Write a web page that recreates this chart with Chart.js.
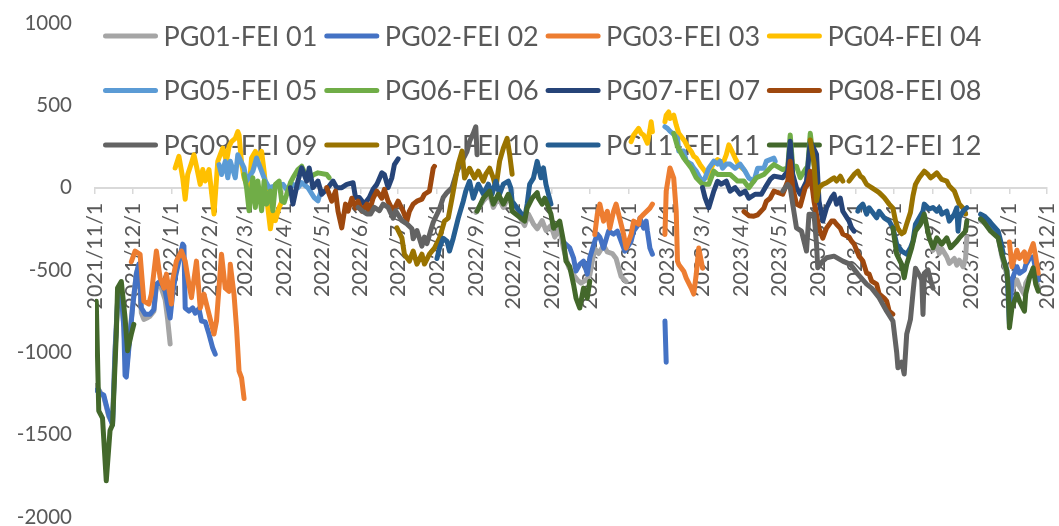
<!DOCTYPE html>
<html>
<head>
<meta charset="utf-8">
<script src="https://cdn.jsdelivr.net/npm/chart.js@4.4.0/dist/chart.umd.min.js"></script>
<style>
html, body { margin: 0; padding: 0; background: #ffffff; }
</style>
</head>
<body>
<canvas id="myChart" width="1059" height="526"></canvas>
<script>
var seriesNames = ["PG01-FEI 01", "PG02-FEI 02", "PG03-FEI 03", "PG04-FEI 04", "PG05-FEI 05", "PG06-FEI 06",
    "PG07-FEI 07", "PG08-FEI 08", "PG09-FEI 09", "PG10-FEI 10", "PG11-FEI 11", "PG12-FEI 12"];
var seriesColors = ["#A5A5A5", "#4472C4", "#ED7D31", "#FFC000", "#5B9BD5", "#70AD47",
    "#264478", "#9E480E", "#636363", "#997300", "#255E91", "#43682B"];
var monthLabels = ["2021/11/1", "2021/12/1", "2022/1/1", "2022/2/1", "2022/3/1", "2022/4/1", "2022/5/1",
    "2022/6/1", "2022/7/1", "2022/8/1", "2022/9/1", "2022/10/1", "2022/11/1", "2022/12/1", "2023/1/1",
    "2023/2/1", "2023/3/1", "2023/4/1", "2023/5/1", "2023/6/1", "2023/7/1", "2023/8/1", "2023/9/1",
    "2023/10/1", "2023/11/1", "2023/12/1"];

// [date, value]; null = gap
var pg01 = [["2021-11-02",-1200],["2021-11-05",-1240],["2021-11-08",-1270],["2021-11-10",-1330],["2021-11-12",-1390],["2021-11-15",-1430],["2021-11-17",-980],["2021-11-19",-690],["2021-11-22",-630],["2021-11-24",-840],["2021-11-26",-1120],["2021-11-29",-880],["2021-12-01",-720],["2021-12-04",-520],["2021-12-06",-470],["2021-12-08",-760],["2021-12-10",-800],["2021-12-13",-790],["2021-12-15",-780],["2021-12-18",-750],["2021-12-20",-600],["2021-12-23",-590],["2021-12-27",-680],["2021-12-29",-800],["2021-12-31",-950],
    ["2022-02-15",null],
    ["2022-09-01",-150],["2022-09-07",-80],["2022-09-12",-40],["2022-09-15",-120],["2022-09-19",-60],["2022-09-23",-120],["2022-09-27",-60],["2022-09-30",-100],["2022-10-10",-230],["2022-10-13",-160],["2022-10-17",-220],["2022-10-20",-250],["2022-10-24",-200],["2022-10-27",-260],["2022-10-31",-230],["2022-11-03",-300],["2022-11-07",-250],["2022-11-10",-370],["2022-11-14",-480],["2022-11-17",-520],["2022-11-21",-560],["2022-11-24",-580],["2022-11-28",-560],["2022-12-01",-530],["2022-12-05",-370],["2022-12-08",-400],["2022-12-12",-350],["2022-12-15",-390],["2022-12-19",-400],["2022-12-22",-430],["2022-12-26",-540],["2022-12-30",-570],
    ["2023-05-01",null],
    ["2023-09-01",-380],["2023-09-04",-350],["2023-09-06",-400],["2023-09-08",-370],["2023-09-12",-420],["2023-09-14",-460],["2023-09-18",-430],["2023-09-20",-470],["2023-09-22",-440],["2023-09-25",-480],["2023-09-27",-430],["2023-09-28",-300],["2023-10-03",null],["2023-10-09",-200],["2023-10-11",-210],["2023-10-17",-240],["2023-10-23",-300],["2023-10-26",-420],["2023-10-30",-530],["2023-11-01",-640],["2023-11-03",-620],["2023-11-07",-560],["2023-11-09",-600],["2023-11-13",-650],["2023-11-14",-580],["2023-11-17",-540],["2023-11-20",-500],["2023-11-22",-560],["2023-11-24",-600]];

var pg02 = [["2021-11-02",-1230],["2021-11-04",-1230],["2021-11-05",-1250],["2021-11-08",-1260],["2021-11-10",-1320],["2021-11-12",-1380],["2021-11-15",-1440],["2021-11-17",-1000],["2021-11-19",-700],["2021-11-22",-640],["2021-11-24",-850],["2021-11-25",-1140],["2021-11-26",-1150],["2021-11-29",-890],["2021-12-01",-730],["2021-12-04",-525],["2021-12-06",-464],["2021-12-08",-731],["2021-12-11",-768],["2021-12-15",-768],["2021-12-18",-740],["2021-12-20",-586],["2021-12-23",-568],["2021-12-27",-628],["2021-12-31",-792],["2022-01-02",-646],["2022-01-04",-549],["2022-01-07",-446],["2022-01-10",-343],["2022-01-11",-355],["2022-01-12",-731],["2022-01-15",-750],["2022-01-18",-730],["2022-01-20",-762],["2022-01-23",-735],["2022-01-25",-810],["2022-01-28",-815],["2022-01-31",-889],["2022-02-03",-974],["2022-02-05",-1011],
    ["2022-06-01",null],
    ["2022-11-10",-330],["2022-11-15",-365],["2022-11-18",-426],["2022-11-20",-507],["2022-11-23",-466],["2022-11-26",-446],["2022-11-29",-525],["2022-12-01",-426],["2022-12-05",-325],["2022-12-07",-282],["2022-12-09",-300],["2022-12-12",-367],["2022-12-16",-264],["2022-12-20",-282],["2022-12-23",-264],["2022-12-26",-325],["2022-12-29",-385],["2023-01-03",-325],["2023-01-05",-264],["2023-01-09",-222],["2023-01-10",-185],["2023-01-13",-246],["2023-01-15",-203],["2023-01-16",-264],["2023-01-18",-367],["2023-01-20",-404],
    ["2023-01-25",null],
    ["2023-01-30",-810],["2023-01-31",-1060],
    ["2023-06-01",null],
    ["2023-10-09",-190],["2023-10-17",-230],["2023-10-23",-290],["2023-10-26",-400],["2023-10-30",-500],["2023-11-01",-830],["2023-11-03",-560],["2023-11-07",-480],["2023-11-09",-520],["2023-11-13",-500],["2023-11-14",-470],["2023-11-17",-430],["2023-11-20",-420],["2023-11-22",-500],["2023-11-24",-560]];

var pg03 = [["2021-11-30",-450],["2021-12-03",-385],["2021-12-07",-405],["2021-12-10",-689],["2021-12-14",-707],["2021-12-16",-646],["2021-12-20",-385],["2021-12-23",-547],["2021-12-26",-610],["2021-12-28",-525],["2022-01-01",-707],["2022-01-02",-560],["2022-01-05",-446],["2022-01-09",-385],["2022-01-12",-446],["2022-01-15",-586],["2022-01-17",-668],["2022-01-21",-446],["2022-01-24",-731],["2022-01-27",-646],["2022-01-31",-768],["2022-02-04",-889],["2022-02-06",-810],["2022-02-10",-404],["2022-02-13",-610],["2022-02-16",-630],["2022-02-17",-465],["2022-02-20",-650],["2022-02-22",-853],["2022-02-24",-1114],["2022-02-26",-1155],["2022-02-28",-1280],
    ["2022-06-01",null],
    ["2022-12-05",-284],["2022-12-07",-161],["2022-12-09",-100],["2022-12-12",-203],["2022-12-15",-143],["2022-12-17",-246],["2022-12-20",-143],["2022-12-22",-100],["2022-12-26",-222],["2022-12-28",-284],["2022-12-30",-367],["2023-01-03",-284],["2023-01-05",-203],["2023-01-09",-222],["2023-01-10",-185],["2023-01-13",-161],["2023-01-18",-124],["2023-01-20",-100],
    ["2023-01-25",null],
    ["2023-01-30",-284],["2023-01-31",-21],["2023-02-03",120],["2023-02-06",58],["2023-02-08",-143],["2023-02-09",-446],["2023-02-10",-466],["2023-02-14",-507],["2023-02-16",-549],["2023-02-20",-610],["2023-02-22",-646],["2023-02-24",-525],["2023-02-26",-367],["2023-02-28",-446],["2023-03-01",-489],
    ["2023-06-01",null],
    ["2023-11-01",-330],["2023-11-03",-480],["2023-11-07",-380],["2023-11-09",-430],["2023-11-13",-390],["2023-11-14",-450],["2023-11-17",-400],["2023-11-20",-340],["2023-11-22",-420],["2023-11-24",-520]];

var pg04 = [["2022-01-04",120],["2022-01-07",190],["2022-01-10",60],["2022-01-12",-70],["2022-01-14",80],["2022-01-17",150],["2022-01-19",200],["2022-01-21",130],["2022-01-24",20],["2022-01-26",110],["2022-01-28",40],["2022-01-31",110],["2022-02-04",-160],["2022-02-07",160],["2022-02-09",200],["2022-02-11",240],["2022-02-14",160],["2022-02-16",250],["2022-02-18",280],["2022-02-21",300],["2022-02-23",340],["2022-02-24",320],["2022-02-26",150],["2022-02-28",60],["2022-03-04",-10],["2022-03-06",180],["2022-03-09",220],["2022-03-11",180],["2022-03-14",220],["2022-03-16",100],["2022-03-18",-60],["2022-03-21",-250],["2022-03-23",-140],["2022-03-25",-200],["2022-03-28",-120],["2022-03-31",-70],
    ["2022-06-01",null],
    ["2023-01-03",280],["2023-01-05",320],["2023-01-09",360],["2023-01-11",330],["2023-01-13",320],["2023-01-16",270],["2023-01-18",350],["2023-01-19",400],["2023-01-20",340],
    ["2023-01-25",null],
    ["2023-01-30",400],["2023-01-31",440],["2023-02-02",460],["2023-02-03",420],["2023-02-06",440],["2023-02-08",380],["2023-02-10",330],["2023-02-13",300],["2023-02-15",280],["2023-02-17",250],["2023-02-20",220],["2023-02-22",190],["2023-02-24",180],["2023-02-27",140],["2023-03-01",120],["2023-03-03",100],["2023-03-06",60],["2023-03-08",120],["2023-03-10",150],["2023-03-13",170],["2023-03-15",160],["2023-03-17",140],["2023-03-20",200],["2023-03-22",260],["2023-03-24",230],["2023-03-27",180],["2023-03-29",150],["2023-03-31",130],["2023-04-03",110]];

var pg05 = [["2022-02-08",140],["2022-02-10",80],["2022-02-13",160],["2022-02-15",60],["2022-02-17",160],["2022-02-21",60],["2022-02-23",200],["2022-02-28",120],["2022-03-02",40],["2022-03-07",100],["2022-03-10",180],["2022-03-14",100],["2022-03-17",40],["2022-03-20",0],["2022-03-25",10],["2022-03-31",20],["2022-04-04",-20],["2022-04-08",20],["2022-04-12",0],["2022-04-15",30],["2022-04-20",0],["2022-04-25",-60],["2022-04-28",-80],["2022-04-30",-30],
    ["2022-06-01",null],
    ["2023-01-30",370],["2023-02-01",360],["2023-02-03",343],["2023-02-06",324],["2023-02-09",302],["2023-02-10",222],["2023-02-14",222],["2023-02-16",161],["2023-02-20",143],["2023-02-22",118],["2023-02-24",100],["2023-02-27",58],["2023-03-01",39],["2023-03-03",58],["2023-03-06",118],["2023-03-10",161],["2023-03-13",143],["2023-03-15",161],["2023-03-17",118],["2023-03-20",143],["2023-03-23",143],["2023-03-27",118],["2023-03-31",143],["2023-04-04",100],["2023-04-07",58],["2023-04-11",39],["2023-04-14",118],["2023-04-19",118],["2023-04-21",161],["2023-04-27",179],["2023-04-28",161]];

var pg06 = [["2022-02-28",80],["2022-03-02",0],["2022-03-04",-140],["2022-03-07",60],["2022-03-09",-120],["2022-03-11",40],["2022-03-14",-140],["2022-03-16",40],["2022-03-18",-100],["2022-03-21",-20],["2022-03-23",-140],["2022-03-25",20],["2022-03-28",40],["2022-03-30",-80],["2022-04-01",-90],["2022-04-06",30],["2022-04-08",60],["2022-04-12",110],["2022-04-15",130],["2022-04-18",80],["2022-04-21",60],["2022-04-25",80],["2022-04-28",90],["2022-05-05",80],["2022-05-07",60],
    ["2022-06-01",null],
    ["2023-02-06",330],["2023-02-09",250],["2023-02-14",180],["2023-02-20",120],["2023-02-24",60],["2023-03-01",20],["2023-03-06",20],["2023-03-10",100],["2023-03-13",80],["2023-03-17",80],["2023-03-23",80],["2023-03-29",40],["2023-04-03",40],["2023-04-07",0],["2023-04-13",60],["2023-04-19",80],["2023-04-24",120],["2023-04-27",140],["2023-05-04",110],["2023-05-08",120],["2023-05-10",320],["2023-05-12",130],["2023-05-15",130],["2023-05-18",60],["2023-05-22",110],["2023-05-24",130],["2023-05-26",330],["2023-05-29",140],["2023-05-31",80]];

var pg07 = [["2022-04-06",0],["2022-04-08",-100],["2022-04-12",40],["2022-04-15",120],["2022-04-19",40],["2022-04-21",120],["2022-04-24",0],["2022-04-28",40],["2022-05-01",-40],["2022-05-05",-10],["2022-05-10",40],["2022-05-13",0],["2022-05-17",0],["2022-05-21",20],["2022-05-26",30],["2022-05-28",-60],["2022-05-31",-60],["2022-06-04",-100],["2022-06-08",-60],["2022-06-11",-10],["2022-06-14",20],["2022-06-18",90],["2022-06-20",80],["2022-06-23",0],["2022-06-26",60],["2022-06-28",140],["2022-07-01",175],
    ["2022-09-01",null],
    ["2023-03-01",0],["2023-03-03",-60],["2023-03-06",-122],["2023-03-10",-21],["2023-03-13",39],["2023-03-16",21],["2023-03-20",39],["2023-03-23",-21],["2023-03-27",0],["2023-03-31",-40],["2023-04-04",-21],["2023-04-07",-64],["2023-04-12",-40],["2023-04-17",-40],["2023-04-20",0],["2023-04-24",50],["2023-04-27",70],["2023-05-04",60],["2023-05-08",100],["2023-05-10",282],["2023-05-12",82],["2023-05-15",0],["2023-05-18",-40],["2023-05-23",39],["2023-05-26",282],["2023-05-31",203],["2023-06-02",-82],["2023-06-05",-203],["2023-06-08",-122],["2023-06-12",-60],["2023-06-14",-40],["2023-06-16",-100],["2023-06-19",-64],["2023-06-21",-143],["2023-06-26",-203],["2023-06-28",-244],["2023-06-30",-264]];

var pg08 = [["2022-05-05",0],["2022-05-09",-82],["2022-05-12",-21],["2022-05-14",-143],["2022-05-17",-244],["2022-05-20",-100],["2022-05-22",-143],["2022-05-25",-64],["2022-05-28",-124],["2022-05-30",-82],["2022-06-02",-143],["2022-06-06",-100],["2022-06-08",-143],["2022-06-11",-64],["2022-06-14",-21],["2022-06-18",-64],["2022-06-20",-10],["2022-06-23",-82],["2022-06-27",-143],["2022-07-01",-82],["2022-07-05",-143],["2022-07-08",-203],["2022-07-10",-143],["2022-07-13",-100],["2022-07-16",-82],["2022-07-20",-70],["2022-07-22",-40],["2022-07-26",-21],["2022-07-29",118],["2022-07-30",130],
    ["2022-10-01",null],
    ["2023-04-03",-145],["2023-04-07",-170],["2023-04-11",-173],["2023-04-14",-165],["2023-04-19",-124],["2023-04-21",-82],["2023-04-24",-64],["2023-04-27",-21],["2023-05-04",-40],["2023-05-08",39],["2023-05-10",161],["2023-05-12",0],["2023-05-15",-100],["2023-05-18",-112],["2023-05-22",0],["2023-05-24",21],["2023-05-26",100],["2023-05-29",-82],["2023-06-02",-246],["2023-06-05",-307],["2023-06-08",-246],["2023-06-12",-203],["2023-06-14",-203],["2023-06-16",-222],["2023-06-19",-246],["2023-06-21",-282],["2023-06-26",-300],["2023-06-28",-325],["2023-06-30",-343],["2023-07-04",-416],["2023-07-07",-446],["2023-07-10",-519],["2023-07-12",-525],["2023-07-14",-568],["2023-07-18",-586],["2023-07-20",-646],["2023-07-24",-671],["2023-07-26",-689],["2023-07-28",-750],["2023-07-31",-768]];

var pg09 = [["2022-05-30",-120],["2022-06-02",-140],["2022-06-06",-160],["2022-06-09",-160],["2022-06-12",-120],["2022-06-16",-140],["2022-06-19",-100],["2022-06-23",-120],["2022-06-27",-185],["2022-06-29",-140],["2022-07-04",-200],["2022-07-08",-220],["2022-07-12",-250],["2022-07-13",-310],["2022-07-16",-260],["2022-07-20",-355],["2022-07-22",-300],["2022-07-24",-340],["2022-07-27",-260],["2022-07-29",-210],["2022-08-03",-130],["2022-08-06",-60],["2022-08-09",-30],["2022-08-13",0],["2022-08-17",100],["2022-08-21",160],["2022-08-25",220],["2022-08-27",280],["2022-08-30",330],["2022-09-01",370],["2022-09-02",200],
    ["2022-12-01",null],
    ["2023-05-04",-20],["2023-05-08",20],["2023-05-10",0],["2023-05-12",-100],["2023-05-15",-244],["2023-05-19",-264],["2023-05-23",-385],["2023-05-25",-161],["2023-05-29",-161],["2023-05-31",-343],["2023-06-01",-487],["2023-06-05",-446],["2023-06-08",-426],["2023-06-14",-416],["2023-06-21",-446],["2023-06-27",-466],["2023-07-03",-525],["2023-07-10",-586],["2023-07-14",-610],["2023-07-20",-668],["2023-07-26",-750],["2023-07-31",-810],["2023-08-03",-1000],["2023-08-04",-1094],["2023-08-07",-1060],["2023-08-09",-1132],["2023-08-11",-890],["2023-08-14",-800],["2023-08-16",-640],["2023-08-18",-490],["2023-08-21",-530],["2023-08-23",-560],["2023-08-24",-770],["2023-08-25",-520],["2023-08-28",-500],["2023-08-30",-560],["2023-09-01",-610]];

var pg10 = [["2022-06-30",-244],["2022-07-04",-305],["2022-07-06",-404],["2022-07-10",-446],["2022-07-13",-385],["2022-07-16",-464],["2022-07-20",-404],["2022-07-22",-464],["2022-07-26",-404],["2022-07-30",-367],["2022-08-03",-307],["2022-08-07",-203],["2022-08-10",-185],["2022-08-13",-64],["2022-08-15",21],["2022-08-18",143],["2022-08-21",222],["2022-08-23",58],["2022-08-27",118],["2022-08-31",58],["2022-09-03",100],["2022-09-07",39],["2022-09-09",82],["2022-09-12",118],["2022-09-15",58],["2022-09-17",-3],["2022-09-20",161],["2022-09-23",240],["2022-09-26",300],["2022-09-28",203],["2022-09-30",82],
    ["2023-01-01",null],
    ["2023-05-26",290],["2023-05-29",150],["2023-05-31",-80],["2023-06-02",0],["2023-06-05",20],["2023-06-08",30],["2023-06-12",50],["2023-06-14",60],["2023-06-16",40],["2023-06-19",70],["2023-06-21",40],["2023-06-23",null],["2023-06-26",40],["2023-06-28",60],["2023-06-30",80],["2023-07-03",100],["2023-07-05",70],["2023-07-07",60],["2023-07-10",20],["2023-07-12",10],["2023-07-14",0],["2023-07-18",-20],["2023-07-20",-30],["2023-07-24",-60],["2023-07-26",-80],["2023-07-28",-100],["2023-07-31",-125],["2023-08-02",-200],["2023-08-04",-250],["2023-08-07",-280],["2023-08-09",-270],["2023-08-11",-220],["2023-08-14",-150],["2023-08-16",-50],["2023-08-18",20],["2023-08-21",60],["2023-08-23",80],["2023-08-25",100],["2023-08-28",80],["2023-08-30",60],["2023-09-01",70],["2023-09-04",90],["2023-09-06",70],["2023-09-08",50],["2023-09-12",40],["2023-09-14",10],["2023-09-18",-20],["2023-09-20",-60],["2023-09-22",-100],["2023-09-25",-125],["2023-09-27",-160]];

var pg11 = [["2022-08-01",-430],["2022-08-03",-367],["2022-08-06",-307],["2022-08-09",-325],["2022-08-11",-385],["2022-08-14",-307],["2022-08-18",-185],["2022-08-22",-82],["2022-08-24",-21],["2022-08-27",39],["2022-08-30",-64],["2022-09-03",21],["2022-09-07",-39],["2022-09-11",21],["2022-09-14",-39],["2022-09-17",39],["2022-09-20",-39],["2022-09-23",21],["2022-09-27",39],["2022-09-29",-3],["2022-09-30",-82],["2022-10-10",-185],["2022-10-12",-100],["2022-10-14",21],["2022-10-17",58],["2022-10-20",160],["2022-10-23",60],["2022-10-25",120],["2022-10-27",20],["2022-10-29",-40],["2022-10-31",-100],
    ["2023-03-01",null],
    ["2023-07-03",-143],["2023-07-04",-122],["2023-07-07",-100],["2023-07-10",-161],["2023-07-12",-122],["2023-07-18",-183],["2023-07-20",-143],["2023-07-24",-183],["2023-07-28",-203],["2023-07-31",-244],["2023-08-03",-343],["2023-08-07",-385],["2023-08-11",-404],["2023-08-14",-365],["2023-08-16",-325],["2023-08-18",-222],["2023-08-21",-183],["2023-08-24",-143],["2023-08-25",-100],["2023-08-29",-130],["2023-09-01",-120],["2023-09-04",-143],["2023-09-06",-122],["2023-09-08",-161],["2023-09-12",-143],["2023-09-14",-203],["2023-09-18",-161],["2023-09-20",-122],["2023-09-21",-264],["2023-09-22",-183],["2023-09-25",-143],["2023-09-28",-122],
    ["2023-10-03",null],
    ["2023-10-09",-161],["2023-10-12",-173],["2023-10-16",-203],["2023-10-18",-222],["2023-10-23",-264],["2023-10-25",-325],["2023-10-27",-400]];

var pg12 = [["2021-11-02",-690],["2021-11-04",-1355],["2021-11-07",-1400],["2021-11-10",-1780],["2021-11-13",-1475],["2021-11-15",-1440],["2021-11-18",-890],["2021-11-19",-610],["2021-11-22",-570],["2021-11-25",-790],["2021-11-27",-990],["2021-11-30",-890],["2021-12-02",-830],
    ["2022-05-01",null],
    ["2022-09-02",-143],["2022-09-07",-64],["2022-09-12",-21],["2022-09-15",-100],["2022-09-19",-40],["2022-09-23",-100],["2022-09-27",-40],["2022-09-29",-80],["2022-09-30",-143],["2022-10-10",-203],["2022-10-12",-124],["2022-10-16",-64],["2022-10-20",-30],["2022-10-21",-64],["2022-10-24",-100],["2022-10-26",-64],["2022-10-28",-100],["2022-10-31",-161],["2022-11-02",-246],["2022-11-04",-230],["2022-11-07",-203],["2022-11-10",-325],["2022-11-12",-446],["2022-11-15",-480],["2022-11-18",-586],["2022-11-20",-671],["2022-11-23",-731],["2022-11-26",-610],["2022-11-29",-671],["2022-12-01",-568],
    ["2023-04-01",null],
    ["2023-07-31",-244],["2023-08-03",-404],["2023-08-07",-466],["2023-08-09",-547],["2023-08-11",-466],["2023-08-15",-365],["2023-08-18",-264],["2023-08-22",-222],["2023-08-25",-161],["2023-08-29",-305],["2023-09-01",-365],["2023-09-04",-305],["2023-09-08",-343],["2023-09-12",-305],["2023-09-15",-365],["2023-09-20",-325],["2023-09-22",-305],["2023-09-27",-264],["2023-09-28",-203],
    ["2023-10-03",null],
    ["2023-10-09",-190],["2023-10-11",-203],["2023-10-17",-264],["2023-10-23",-305],["2023-10-26",-404],["2023-10-30",-507],["2023-10-31",-608],["2023-11-01",-851],["2023-11-03",-730],["2023-11-07",-646],["2023-11-09",-689],["2023-11-13",-750],["2023-11-14",-646],["2023-11-17",-547],["2023-11-20",-487],["2023-11-22",-586],["2023-11-24",-628]];

var allSeries = [pg01, pg02, pg03, pg04, pg05, pg06, pg07, pg08, pg09, pg10, pg11, pg12];

var baseDay = Date.UTC(2021, 10, 1);
function dayOf(s) {
    var p = s.split(/[-\/]/);
    return (Date.UTC(+p[0], +p[1] - 1, +p[2]) - baseDay) / 86400000;
}
var monthTicks = monthLabels.map(dayOf);

var textColor = "#595959";
var fontFamily = "Lato, 'Open Sans', sans-serif";

var datasets = allSeries.map(function (s, i) {
    return {
        label: seriesNames[i],
        data: s.map(function (p) { return { x: dayOf(p[0]), y: p[1] }; }),
        borderColor: seriesColors[i],
        backgroundColor: seriesColors[i],
        borderWidth: 5,
        borderCapStyle: "round",
        borderJoinStyle: "round",
        pointRadius: 0,
        tension: 0,
        spanGaps: false,
        order: allSeries.length - i
    };
});

// legend drawn under the lines, like the original
var excelLegend = {
    id: "excelLegend",
    beforeDatasetsDraw: function (chart) {
        var ctx = chart.ctx;
        ctx.save();
        chart.data.datasets.forEach(function (ds, i) {
            var col = i % 4, row = Math.floor(i / 4);
            var x = 105.5 + col * 221.3, y = 36 + row * 54.5;
            ctx.strokeStyle = ds.borderColor;
            ctx.lineWidth = 5;
            ctx.lineCap = "round";
            ctx.beginPath();
            ctx.moveTo(x, y);
            ctx.lineTo(x + 50, y);
            ctx.stroke();
            ctx.fillStyle = textColor;
            ctx.font = "27px " + fontFamily;
            ctx.textBaseline = "middle";
            ctx.textAlign = "left";
            ctx.fillText(ds.label, x + 58, y + 1);
        });
        ctx.restore();
    }
};

var ctx = document.getElementById("myChart").getContext("2d");
var myChart = new Chart(ctx, {
    type: "line",
    data: { datasets: datasets },
    options: {
        responsive: false,
        animation: false,
        devicePixelRatio: 1,
        layout: { padding: { left: 0, right: 12, top: 23, bottom: 9 } },
        plugins: { legend: { display: false }, tooltip: { enabled: false } },
        scales: {
            x: {
                type: "linear",
                position: { y: 0 },
                min: 0,
                max: monthTicks[monthTicks.length - 1],
                afterBuildTicks: function (scale) {
                    scale.ticks = monthTicks.map(function (v) { return { value: v }; });
                },
                afterFit: function (scale) {
                    scale.paddingLeft = 0;
                    scale.paddingRight = 0;
                },
                ticks: {
                    autoSkip: false,
                    maxRotation: 90,
                    minRotation: 90,
                    padding: 10,
                    color: textColor,
                    font: { family: fontFamily, size: 21.5 },
                    callback: function (v) {
                        var k = monthTicks.indexOf(v);
                        return k >= 0 ? monthLabels[k] : "";
                    }
                },
                grid: { display: true, drawOnChartArea: false, drawTicks: true, tickLength: 5, color: "#D9D9D9", lineWidth: 1.5 },
                border: { display: true, color: "#D9D9D9", width: 2 }
            },
            y: {
                min: -2000,
                max: 1000,
                afterFit: function (scale) {
                    scale.width = 95;
                    scale.paddingTop = 0;
                    scale.paddingBottom = 0;
                },
                ticks: {
                    stepSize: 500,
                    padding: 23,
                    color: textColor,
                    font: { family: fontFamily, size: 20.5 },
                    callback: function (v) { return String(v); }
                },
                grid: { display: false, drawTicks: false },
                border: { display: false }
            }
        }
    },
    plugins: [excelLegend]
});
</script>
</body>
</html>
